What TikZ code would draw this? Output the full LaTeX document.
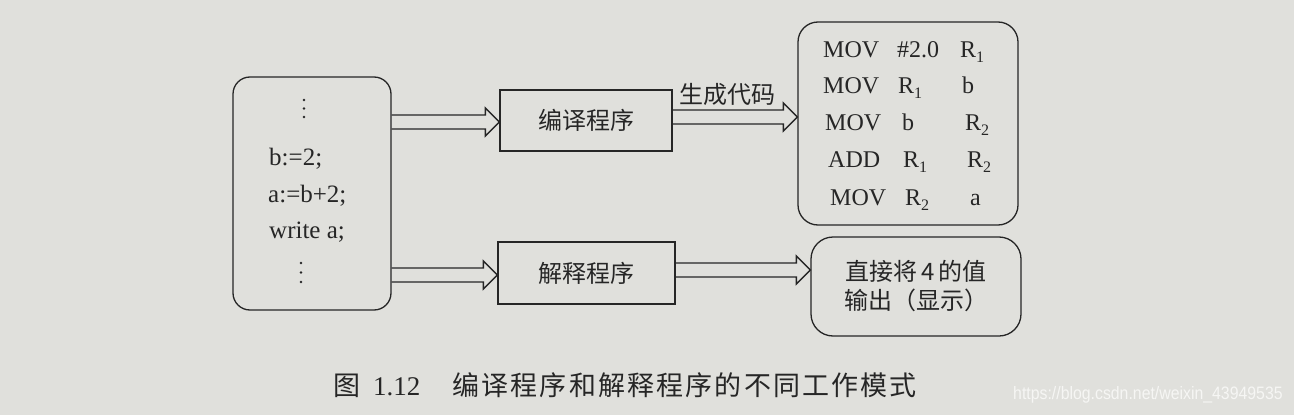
\documentclass[tikz,border=0pt]{standalone}
\usepackage{fontspec}
\setmainfont{Liberation Serif}
\newfontfamily\cjk{Noto Sans CJK SC}
\newfontfamily\cjkcap[LetterSpace=8]{Noto Sans CJK SC}
\newfontfamily\wmfont{Liberation Sans}
\usetikzlibrary{calc}
\definecolor{bg}{RGB}{224,224,220}
\definecolor{ink}{RGB}{38,38,38}
\definecolor{wmcol}{RGB}{246,246,244}
\newcommand\sbs[1]{\raisebox{-5pt}{\fontsize{16}{16}\selectfont #1}}
\newcommand\hollowarrow[2]{%
  \draw[arrowline] let \p1=#1, \p2=#2 in
    (\x1,\y2+7pt) -- (\x2-14pt,\y2+7pt) -- (\x2-14pt,\y2+14pt) -- (\x2,\y2)
    -- (\x2-14pt,\y2-14pt) -- (\x2-14pt,\y2-7pt) -- (\x1,\y2-7pt);}
\tikzset{
  rbox/.style={draw=ink, line width=1.3pt, inner sep=0pt},
  sbox/.style={draw=ink, line width=1.3pt, inner sep=0pt, font=\fontsize{24}{28}\cjk, text=ink},
  arrowline/.style={draw=ink, line width=1.3pt, line join=miter},
  code/.style={anchor=base west, inner sep=0pt, text=ink, font=\fontsize{25}{30}\selectfont},
  asm/.style={anchor=base west, inner sep=0pt, text=ink, font=\fontsize{24}{28}\selectfont},
}
\begin{document}
\begin{tikzpicture}[x=1pt,y=-1pt]
\fill[bg] (0,0) rectangle (1294,415);
\useasboundingbox (0,0) rectangle (1294,415);

% source program box
\node[rbox, rounded corners=17pt, minimum width=158pt, minimum height=233pt] (src) at (312,193.5) {};
\foreach \d in {0,1,2} \fill[ink] (304,100+8.5*\d) circle (1.4);
\node[code] (l1) at (269,165) {b:=2;};
\node[code] (l2) at (268,202) {a:=b+2;};
\node[code] (l3) at (269,238) {write a;};
\foreach \d in {0,1,2} \fill[ink] (301,263+9.5*\d) circle (1.4);

% translator boxes
\node[sbox, minimum width=172pt, minimum height=61pt] (comp) at (586,120.5) {编译程序};
\node[sbox, minimum width=177pt, minimum height=62pt] (interp) at (586.5,273) {解释程序};

% output boxes
\node[rbox, rounded corners=20pt, minimum width=220pt, minimum height=203pt] (out1) at (908,123.5) {};
\node[asm] (c1) at (823,57) {\makebox[74pt][l]{MOV}\makebox[63pt][l]{\#2.0}R\sbs{1}};
\node[asm] (c2) at (823,93) {\makebox[75pt][l]{MOV}\makebox[64pt][l]{R\sbs{1}}b};
\node[asm] (c3) at (825,130) {\makebox[77pt][l]{MOV}\makebox[63pt][l]{b}R\sbs{2}};
\node[asm] (c4) at (828,167) {\makebox[75pt][l]{ADD}\makebox[64pt][l]{R\sbs{1}}R\sbs{2}};
\node[asm] (c5) at (830,205) {\makebox[75pt][l]{MOV}\makebox[65pt][l]{R\sbs{2}}a};

\node[sbox, rounded corners=22pt, minimum width=210pt, minimum height=99pt, align=center,
      font=\fontsize{24}{29}\cjk] (out2) at (916,286.5) {直接将\,4\,的值\\输出（显示）};

% arrows
\hollowarrow{(src.east)}{($(comp.west)+(0,1.5)$)}
\hollowarrow{(comp.east)}{($(out1.west)+(0,-6.5)$)}
\hollowarrow{(src.east)}{($(interp.west)+(0,2)$)}
\hollowarrow{(interp.east)}{($(out2.west)+(0,-16.5)$)}
\node[text=ink, font=\fontsize{24}{28}\cjk, inner sep=0pt] (gen) at (727,94) {生成代码};

% caption
\node[anchor=west, inner sep=0pt, text=ink, font=\fontsize{27}{30}\selectfont] (cap) at (333,385)
  {{\cjkcap 图}\hspace{13pt}1.12\hspace{32pt}{\cjkcap 编译程序和解释程序的不同工作模式}};
% watermark
\node[anchor=west, inner sep=0pt, text=wmcol, font=\fontsize{18}{20}\wmfont] (wm) at (1013,395)
  {\scalebox{0.88}[1]{https://blog.csdn.net/weixin\_43949535}};
\end{tikzpicture}
\end{document}
